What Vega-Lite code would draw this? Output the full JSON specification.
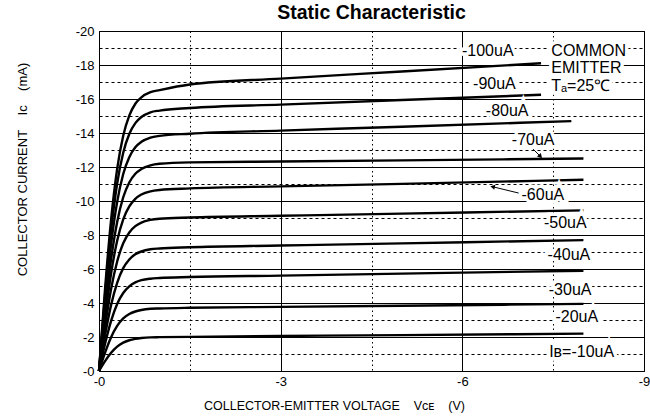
{
  "$schema": "https://vega.github.io/schema/vega-lite/v6.json",
  "width": 545,
  "height": 340,
  "autosize": {"type": "none"},
  "padding": {"left": 99, "top": 31, "right": 6, "bottom": 45},
  "background": "white",
  "title": {"text": "Static Characteristic", "fontSize": 19.5, "fontWeight": "bold", "font": "Liberation Sans", "color": "black", "offset": 2},
  "config": {
    "font": "Liberation Sans",
    "view": {"stroke": "black", "strokeWidth": 1},
    "text": {"font": "Liberation Sans"}
  },
  "datasets": {
    "curves": [
      {"b":"-100uA","v":0,"i":0},{"b":"-100uA","v":-0.1,"i":-4.83},{"b":"-100uA","v":-0.2,"i":-8.91},{"b":"-100uA","v":-0.3,"i":-11.89},{"b":"-100uA","v":-0.4,"i":-13.84},{"b":"-100uA","v":-0.5,"i":-15.02},{"b":"-100uA","v":-0.6,"i":-15.72},{"b":"-100uA","v":-0.7,"i":-16.1},{"b":"-100uA","v":-0.85,"i":-16.4},{"b":"-100uA","v":-1.0,"i":-16.52},{"b":"-100uA","v":-1.5,"i":-16.85},{"b":"-100uA","v":-3,"i":-17.2},{"b":"-100uA","v":-5,"i":-17.62},{"b":"-100uA","v":-7.3,"i":-18.1},
      {"b":"-90uA","v":0,"i":0},{"b":"-90uA","v":-0.1,"i":-4.48},{"b":"-90uA","v":-0.2,"i":-8.27},{"b":"-90uA","v":-0.3,"i":-11.03},{"b":"-90uA","v":-0.4,"i":-12.84},{"b":"-90uA","v":-0.5,"i":-13.94},{"b":"-90uA","v":-0.6,"i":-14.58},{"b":"-90uA","v":-0.7,"i":-14.94},{"b":"-90uA","v":-0.85,"i":-15.22},{"b":"-90uA","v":-1.0,"i":-15.32},{"b":"-90uA","v":-1.5,"i":-15.47},{"b":"-90uA","v":-3,"i":-15.67},{"b":"-90uA","v":-5,"i":-15.94},{"b":"-90uA","v":-7.3,"i":-16.25},
      {"b":"-80uA","v":0,"i":0},{"b":"-80uA","v":-0.1,"i":-4.04},{"b":"-80uA","v":-0.2,"i":-7.46},{"b":"-80uA","v":-0.3,"i":-9.95},{"b":"-80uA","v":-0.4,"i":-11.59},{"b":"-80uA","v":-0.5,"i":-12.58},{"b":"-80uA","v":-0.6,"i":-13.16},{"b":"-80uA","v":-0.7,"i":-13.48},{"b":"-80uA","v":-0.85,"i":-13.73},{"b":"-80uA","v":-1.0,"i":-13.83},{"b":"-80uA","v":-1.5,"i":-13.96},{"b":"-80uA","v":-3,"i":-14.14},{"b":"-80uA","v":-5,"i":-14.37},{"b":"-80uA","v":-7.8,"i":-14.7},
      {"b":"-70uA","v":0,"i":0},{"b":"-70uA","v":-0.1,"i":-3.56},{"b":"-70uA","v":-0.2,"i":-6.58},{"b":"-70uA","v":-0.3,"i":-8.77},{"b":"-70uA","v":-0.4,"i":-10.22},{"b":"-70uA","v":-0.5,"i":-11.09},{"b":"-70uA","v":-0.6,"i":-11.6},{"b":"-70uA","v":-0.7,"i":-11.88},{"b":"-70uA","v":-0.85,"i":-12.1},{"b":"-70uA","v":-1.0,"i":-12.19},{"b":"-70uA","v":-1.5,"i":-12.27},{"b":"-70uA","v":-3,"i":-12.32},{"b":"-70uA","v":-5,"i":-12.39},{"b":"-70uA","v":-8,"i":-12.5},
      {"b":"-60uA","v":0,"i":0},{"b":"-60uA","v":-0.1,"i":-3.11},{"b":"-60uA","v":-0.2,"i":-5.75},{"b":"-60uA","v":-0.3,"i":-7.66},{"b":"-60uA","v":-0.4,"i":-8.92},{"b":"-60uA","v":-0.5,"i":-9.68},{"b":"-60uA","v":-0.6,"i":-10.13},{"b":"-60uA","v":-0.7,"i":-10.38},{"b":"-60uA","v":-0.85,"i":-10.57},{"b":"-60uA","v":-1.0,"i":-10.65},{"b":"-60uA","v":-1.5,"i":-10.74},{"b":"-60uA","v":-3,"i":-10.86},{"b":"-60uA","v":-5,"i":-11.01},{"b":"-60uA","v":-8,"i":-11.25},
      {"b":"-50uA","v":0,"i":0},{"b":"-50uA","v":-0.1,"i":-2.62},{"b":"-50uA","v":-0.2,"i":-4.83},{"b":"-50uA","v":-0.3,"i":-6.44},{"b":"-50uA","v":-0.4,"i":-7.51},{"b":"-50uA","v":-0.5,"i":-8.15},{"b":"-50uA","v":-0.6,"i":-8.52},{"b":"-50uA","v":-0.7,"i":-8.73},{"b":"-50uA","v":-0.85,"i":-8.89},{"b":"-50uA","v":-1.0,"i":-8.96},{"b":"-50uA","v":-1.5,"i":-9.03},{"b":"-50uA","v":-3,"i":-9.13},{"b":"-50uA","v":-5,"i":-9.26},{"b":"-50uA","v":-8,"i":-9.45},
      {"b":"-40uA","v":0,"i":0},{"b":"-40uA","v":-0.1,"i":-2.11},{"b":"-40uA","v":-0.2,"i":-3.89},{"b":"-40uA","v":-0.3,"i":-5.19},{"b":"-40uA","v":-0.4,"i":-6.05},{"b":"-40uA","v":-0.5,"i":-6.56},{"b":"-40uA","v":-0.6,"i":-6.87},{"b":"-40uA","v":-0.7,"i":-7.03},{"b":"-40uA","v":-0.85,"i":-7.16},{"b":"-40uA","v":-1.0,"i":-7.21},{"b":"-40uA","v":-1.5,"i":-7.28},{"b":"-40uA","v":-3,"i":-7.38},{"b":"-40uA","v":-5,"i":-7.51},{"b":"-40uA","v":-8,"i":-7.7},
      {"b":"-30uA","v":0,"i":0},{"b":"-30uA","v":-0.1,"i":-1.6},{"b":"-30uA","v":-0.2,"i":-2.95},{"b":"-30uA","v":-0.3,"i":-3.94},{"b":"-30uA","v":-0.4,"i":-4.59},{"b":"-30uA","v":-0.5,"i":-4.98},{"b":"-30uA","v":-0.6,"i":-5.21},{"b":"-30uA","v":-0.7,"i":-5.34},{"b":"-30uA","v":-0.85,"i":-5.43},{"b":"-30uA","v":-1.0,"i":-5.47},{"b":"-30uA","v":-1.5,"i":-5.53},{"b":"-30uA","v":-3,"i":-5.61},{"b":"-30uA","v":-5,"i":-5.73},{"b":"-30uA","v":-8,"i":-5.9},
      {"b":"-20uA","v":0,"i":0},{"b":"-20uA","v":-0.1,"i":-1.08},{"b":"-20uA","v":-0.2,"i":-1.99},{"b":"-20uA","v":-0.3,"i":-2.65},{"b":"-20uA","v":-0.4,"i":-3.09},{"b":"-20uA","v":-0.5,"i":-3.35},{"b":"-20uA","v":-0.6,"i":-3.5},{"b":"-20uA","v":-0.7,"i":-3.59},{"b":"-20uA","v":-0.85,"i":-3.66},{"b":"-20uA","v":-1.0,"i":-3.68},{"b":"-20uA","v":-1.5,"i":-3.72},{"b":"-20uA","v":-3,"i":-3.77},{"b":"-20uA","v":-5,"i":-3.84},{"b":"-20uA","v":-8,"i":-3.95},
      {"b":"-10uA","v":0,"i":0},{"b":"-10uA","v":-0.1,"i":-0.58},{"b":"-10uA","v":-0.2,"i":-1.07},{"b":"-10uA","v":-0.3,"i":-1.43},{"b":"-10uA","v":-0.4,"i":-1.67},{"b":"-10uA","v":-0.5,"i":-1.81},{"b":"-10uA","v":-0.6,"i":-1.89},{"b":"-10uA","v":-0.7,"i":-1.94},{"b":"-10uA","v":-0.85,"i":-1.98},{"b":"-10uA","v":-1.0,"i":-1.99},{"b":"-10uA","v":-1.5,"i":-2.01},{"b":"-10uA","v":-3,"i":-2.06},{"b":"-10uA","v":-5,"i":-2.11},{"b":"-10uA","v":-8,"i":-2.2}
    ],
    "labels": [
      {"t":"-100uA","v":-6.42,"i":-18.85},
      {"t":"-90uA","v":-6.53,"i":-16.9},
      {"t":"-80uA","v":-6.74,"i":-15.3},
      {"t":"-70uA","v":-7.17,"i":-13.6},
      {"t":"-60uA","v":-7.33,"i":-10.35},
      {"t":"-50uA","v":-7.7,"i":-8.69},
      {"t":"-40uA","v":-7.76,"i":-6.82},
      {"t":"-30uA","v":-7.78,"i":-4.76},
      {"t":"-20uA","v":-7.89,"i":-3.2},
      {"t":"Iʙ=-10uA","v":-7.97,"i":-1.14}
    ],
    "notes": [
      {"t":"COMMON","v":-7.47,"i":-18.85},
      {"t":"EMITTER","v":-7.47,"i":-17.8},
      {"t":"Tₐ=25℃","v":-7.47,"i":-16.75}
    ],
    "arrows": [
      {"b":"-70uA","p":"tail","v":-7.17,"i":-13.05},
      {"b":"-70uA","p":"head","v":-7.29,"i":-12.62},
      {"b":"-60uA","p":"tail","v":-6.95,"i":-10.45},
      {"b":"-60uA","p":"head","v":-6.5,"i":-10.84}
    ]
  },
  "encoding": {
    "x": {
      "field": "v", "type": "quantitative",
      "scale": {"domain": [0, -9], "nice": false},
      "title": "COLLECTOR-EMITTER VOLTAGE\u00a0\u00a0\u00a0\u00a0Vᴄᴇ\u00a0\u00a0\u00a0\u00a0(V)",
      "axis": {
        "values": [0, -1.5, -3, -4.5, -6, -7.5, -9],
        "labelExpr": "abs(datum.value) % 3 == 0 ? '-' + abs(datum.value) : ''",
        "grid": true, "gridColor": "black", "gridOpacity": 1, "gridWidth": 1,
        "gridDash": {"condition": {"test": "abs(datum.value) % 3 != 0", "value": [1.5, 3]}, "value": []},
        "ticks": false, "domain": false,
        "labelFont": "Liberation Sans", "labelFontSize": 13, "labelColor": "black", "labelPadding": 4,
        "labelOverlap": false, "labelFlush": false,
        "titleFont": "Liberation Sans", "titleFontSize": 12.5, "titleFontWeight": "normal", "titleColor": "black",
        "titleX": 235, "titleY": 34, "titleBaseline": "middle", "titleAlign": "center"
      }
    },
    "y": {
      "field": "i", "type": "quantitative",
      "scale": {"domain": [0, -20], "nice": false},
      "title": "COLLECTOR CURRENT\u00a0\u00a0\u00a0\u00a0Iᴄ\u00a0\u00a0\u00a0\u00a0(mA)",
      "axis": {
        "values": [0, -1, -2, -3, -4, -5, -6, -7, -8, -9, -10, -11, -12, -13, -14, -15, -16, -17, -18, -19, -20],
        "labelExpr": "abs(datum.value) % 2 == 0 ? '-' + abs(datum.value) : ''",
        "grid": true, "gridColor": "black", "gridOpacity": 1, "gridWidth": 1,
        "gridDash": {"condition": {"test": "abs(datum.value) % 2 == 1", "value": [3, 3]}, "value": []},
        "ticks": false, "domain": false,
        "labelFont": "Liberation Sans", "labelFontSize": 13, "labelColor": "black", "labelPadding": 5,
        "labelOverlap": false, "labelFlush": false,
        "titleFont": "Liberation Sans", "titleFontSize": 13, "titleFontWeight": "normal", "titleColor": "black",
        "titleX": -77, "titleY": 138, "titleAngle": -90, "titleBaseline": "middle", "titleAlign": "center"
      }
    }
  },
  "layer": [
    {
      "data": {"name": "curves"},
      "mark": {"type": "line", "color": "black", "strokeWidth": 2.4, "interpolate": "monotone"},
      "encoding": {"detail": {"field": "b"}}
    },
    {
      "data": {"name": "arrows"},
      "mark": {"type": "line", "color": "black", "strokeWidth": 1},
      "encoding": {"detail": {"field": "b"}}
    },
    {
      "data": {"name": "arrows"},
      "transform": [{"filter": "datum.p == 'head' && datum.b == '-70uA'"}],
      "mark": {"type": "point", "shape": "triangle-up", "filled": true, "color": "black", "opacity": 1, "size": 28, "angle": 138},
      "encoding": {}
    },
    {
      "data": {"name": "arrows"},
      "transform": [{"filter": "datum.p == 'head' && datum.b == '-60uA'"}],
      "mark": {"type": "point", "shape": "triangle-up", "filled": true, "color": "black", "opacity": 1, "size": 28, "angle": 283},
      "encoding": {}
    },
    {
      "data": {"name": "labels"},
      "mark": {"type": "text", "fontSize": 16, "font": "Liberation Sans", "align": "center", "baseline": "middle", "fill": "white", "stroke": "white", "strokeWidth": 7},
      "encoding": {"text": {"field": "t"}}
    },
    {
      "data": {"name": "notes"},
      "mark": {"type": "text", "fontSize": 16, "font": "Liberation Sans", "align": "left", "baseline": "middle", "fill": "white", "stroke": "white", "strokeWidth": 7},
      "encoding": {"text": {"field": "t"}}
    },
    {
      "data": {"name": "labels"},
      "mark": {"type": "text", "fontSize": 16, "font": "Liberation Sans", "align": "center", "baseline": "middle", "color": "black"},
      "encoding": {"text": {"field": "t"}}
    },
    {
      "data": {"name": "notes"},
      "mark": {"type": "text", "fontSize": 16, "font": "Liberation Sans", "align": "left", "baseline": "middle", "color": "black"},
      "encoding": {"text": {"field": "t"}}
    }
  ]
}
